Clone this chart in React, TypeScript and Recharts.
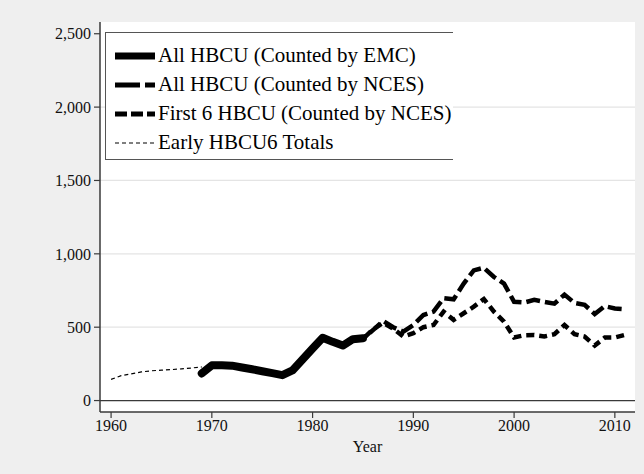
import React from 'react'
import { LineChart, Line, XAxis, YAxis, CartesianGrid, ReferenceLine } from 'recharts'

const years = [
  1960, 1961, 1962, 1963, 1964, 1965, 1966, 1967, 1968, 1969,
  1970, 1971, 1972, 1973, 1974, 1975, 1976, 1977, 1978, 1979,
  1980, 1981, 1982, 1983, 1984, 1985, 1986, 1987, 1988, 1989,
  1990, 1991, 1992, 1993, 1994, 1995, 1996, 1997, 1998, 1999,
  2000, 2001, 2002, 2003, 2004, 2005, 2006, 2007, 2008, 2009,
  2010, 2011,
]

// values aligned to years, null where the series has no data
const earlyHbcu6 = [
  144, 170, 182, 195, 203, 207, 211, 216, 222, 229,
  null, null, null, null, null, null, null, null, null, null,
  null, null, null, null, null, null, null, null, null, null,
  null, null, null, null, null, null, null, null, null, null,
  null, null, null, null, null, null, null, null, null, null,
  null, null,
]

const allEmc = [
  null, null, null, null, null, null, null, null, null, 185,
  240, 240, 238, 225, 213, 200, 187, 173, 205, 280,
  355, 428, 400, 375, 418, 425, null, null, null, null,
  null, null, null, null, null, null, null, null, null, null,
  null, null, null, null, null, null, null, null, null, null,
  null, null,
]

const allNces = [
  null, null, null, null, null, null, null, null, null, null,
  null, null, null, null, null, null, null, null, null, null,
  null, null, null, null, 420, 425, 480, 543, 500, 470,
  515, 583, 606, 698, 690, 797, 887, 905, 842, 797,
  673, 668, 686, 672, 660, 722, 665, 652, 590, 643,
  627, 622,
]

const first6Nces = [
  null, null, null, null, null, null, null, null, null, null,
  null, null, null, null, null, null, null, null, null, null,
  null, null, null, null, 415, 420, 485, 530, 490, 437,
  459, 500, 515, 606, 550, 595, 640, 692, 606, 538,
  430, 445, 447, 437, 452, 515, 452, 436, 375, 429,
  430, 448,
]

const xTicks = [1960, 1970, 1980, 1990, 2000, 2010]
const yTicks = [0, 500, 1000, 1500, 2000, 2500]

const data = years.map((year, i) => ({
  year,
  early: earlyHbcu6[i],
  emc: allEmc[i],
  nces: allNces[i],
  first6: first6Nces[i],
}))

const axisColor = '#3a3a3a'
const font = '"Liberation Serif", "Times New Roman", serif'

const legendItems = [
  { label: 'All HBCU (Counted by EMC)', width: 7, dash: undefined },
  { label: 'All HBCU (Counted by NCES)', width: 5, dash: '25 5' },
  { label: 'First 6 HBCU (Counted by NCES)', width: 5, dash: '12 4' },
  { label: 'Early HBCU6 Totals', width: 1.2, dash: '4 3' },
]

function LegendBox() {
  return (
    <div
      style={{
        position: 'absolute', left: 105, top: 32, width: 348, height: 128,
        boxSizing: 'border-box', background: '#fff',
        borderTop: '1.5px solid #555', borderLeft: '1.5px solid #555', borderBottom: '1.5px solid #555',
        paddingTop: 8,
      }}
    >
      {legendItems.map(item => (
        <div key={item.label} style={{ height: 29, display: 'flex', alignItems: 'center' }}>
          <svg width={40} height={12} style={{ marginLeft: 9, marginRight: 3 }}>
            <line x1={0} y1={6} x2={40} y2={6} stroke="#000" strokeWidth={item.width} strokeDasharray={item.dash} />
          </svg>
          <span style={{ fontSize: 21, color: '#000', whiteSpace: 'nowrap' }}>{item.label}</span>
        </div>
      ))}
    </div>
  )
}

export default function App() {
  return (
    <div style={{ position: 'absolute', left: 0, top: 0, width: 644, height: 474, background: '#efefef', fontFamily: font }}>
      <LineChart width={644} height={474} data={data} margin={{ top: 22, right: 9, bottom: 17, left: 0 }}>
        <CartesianGrid vertical={false} horizontalValues={[500, 1000, 1500, 2000]} stroke="#e4e4e4" strokeWidth={1.2} fill="#fff" />
        <XAxis
          type="number" dataKey="year" domain={[1958.9, 2012]} ticks={xTicks} allowDataOverflow
          height={45} tickSize={6} tickMargin={2}
          axisLine={{ stroke: axisColor, strokeWidth: 1.5 }} tickLine={{ stroke: axisColor, strokeWidth: 1.2 }}
          tick={{ fontSize: 16, fill: '#111', fontFamily: font }}
          label={{ value: 'Year', position: 'insideBottom', offset: 5, fill: '#111', fontSize: 16, fontFamily: font }}
        />
        <YAxis
          type="number" domain={[-78, 2580]} ticks={yTicks} allowDataOverflow
          width={100} tickSize={6} tickMargin={3}
          axisLine={{ stroke: axisColor, strokeWidth: 1.5 }} tickLine={{ stroke: axisColor, strokeWidth: 1.2 }}
          tick={{ fontSize: 16, fill: '#111', fontFamily: font }}
          tickFormatter={v => Number(v).toLocaleString('en-US')}
        />
        <ReferenceLine y={0} stroke={axisColor} strokeWidth={1.3} />
        <Line dataKey="early" stroke="#000" strokeWidth={1.2} strokeDasharray="4 3" dot={false} isAnimationActive={false} connectNulls={false} />
        <Line dataKey="emc" stroke="#000" strokeWidth={8} strokeLinejoin="round" strokeLinecap="round" dot={false} isAnimationActive={false} connectNulls={false} />
        <Line dataKey="nces" stroke="#000" strokeWidth={4.5} strokeDasharray="14 5" dot={false} isAnimationActive={false} connectNulls={false} />
        <Line dataKey="first6" stroke="#000" strokeWidth={4.5} strokeDasharray="8 5" dot={false} isAnimationActive={false} connectNulls={false} />
      </LineChart>
      <LegendBox />
    </div>
  )
}
